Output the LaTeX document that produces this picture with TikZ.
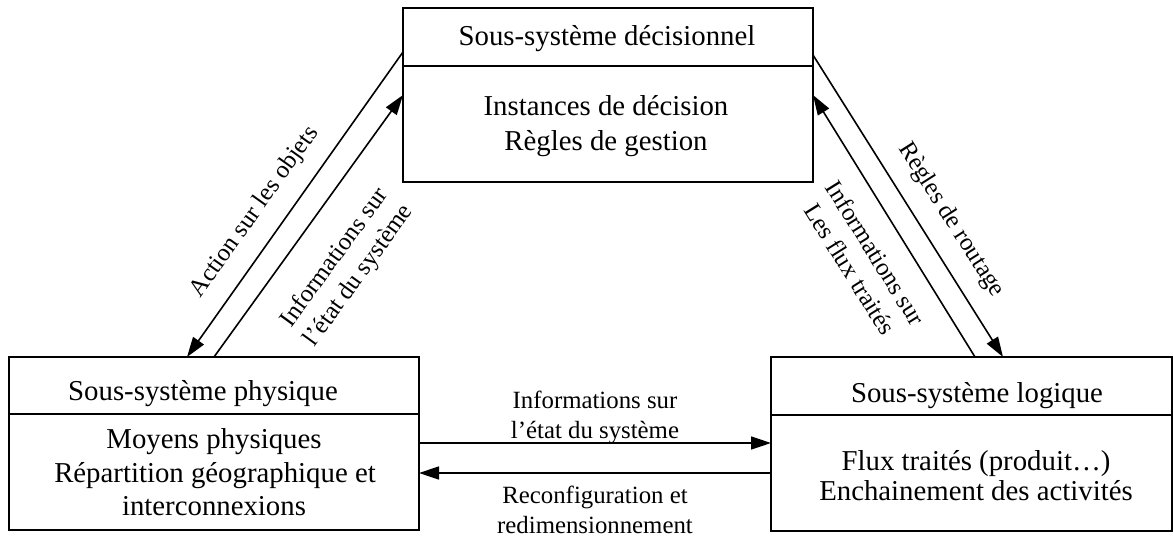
\documentclass[tikz,border=0pt]{standalone}
\usepackage{fontspec}
\setmainfont{Liberation Serif}
\usetikzlibrary{arrows.meta}
\tikzset{
  box/.style={draw, line width=1.4pt, rectangle, inner sep=0pt},
  divider/.style={line width=1.4pt},
  boxtext/.style={font=\fontsize{28.8}{30}\selectfont, inner sep=0pt, anchor=base},
  lbl/.style={font=\fontsize{24.8}{30}\selectfont, inner sep=0pt, align=center},
  conn/.style={line width=1.6pt, -{Triangle[length=20pt,width=13pt]}}
}
\begin{document}
\begin{tikzpicture}[x=1pt, y=-1pt]
\useasboundingbox (0,0) rectangle (1173,538);
% boxes
\node[box, minimum width=410pt, minimum height=174pt] (dec) at (608,95) {};
\node[box, minimum width=410pt, minimum height=173pt] (phy) at (214,443.5) {};
\node[box, minimum width=401pt, minimum height=174pt] (log) at (971.5,444) {};
\draw[divider] (dec.west |- 0,66) -- (dec.east |- 0,66);
\draw[divider] (phy.west |- 0,414) -- (phy.east |- 0,414);
\draw[divider] (log.west |- 0,415) -- (log.east |- 0,415);
% box texts
\node[boxtext] (dect) at (607,45) {Sous-système décisionnel};
\node[boxtext] (dec1) at (606,115) {Instances de décision};
\node[boxtext] (dec2) at (606,150) {Règles de gestion};
\node[boxtext] (phyt) at (203,400) {Sous-système physique};
\node[boxtext] (phy1) at (214,448) {Moyens physiques};
\node[boxtext] (phy2) at (215,482) {Répartition géographique et};
\node[boxtext] (phy3) at (214,515) {interconnexions};
\node[boxtext] (logt) at (977,402) {Sous-système logique};
\node[boxtext] (log1) at (976,470) {Flux traités (produit…)};
\node[boxtext] (log2) at (976,500) {Enchainement des activités};
% connector end points
\coordinate (a1s) at (403,52);  \coordinate (a1e) at (187,357);
\coordinate (a2s) at (214,357); \coordinate (a2e) at (403,95);
\coordinate (a3s) at (813,55);  \coordinate (a3e) at (1003,357);
\coordinate (a4s) at (975,357); \coordinate (a4e) at (813,95);
\coordinate (h1s) at (419,443); \coordinate (h1e) at (771,443);
\coordinate (h2s) at (771,473); \coordinate (h2e) at (419,473);
\draw[conn] (a1s) -- (a1e);
\draw[conn] (a2s) -- (a2e);
\draw[conn] (a3s) -- (a3e);
\draw[conn] (a4s) -- (a4e);
\draw[conn] (h1s) -- (h1e);
\draw[conn] (h2s) -- (h2e);
% labels
\node[lbl, rotate=54.5] (l1) at (255,212) {Action sur les objets};
\node[lbl, rotate=54] (l2) at (347,267) {Informations sur\\l’état du système};
\node[lbl, rotate=-57.5] (l3) at (951,220) {Règles de routage};
\node[lbl, rotate=-58] (l4) at (863,261) {Informations sur\\Les flux traités};
\node[lbl, anchor=base] (l5) at (595,408) {Informations sur};
\node[lbl, anchor=base] (l6) at (595,438) {l’état du système};
\node[lbl, anchor=base] (l7) at (595,503) {Reconfiguration et};
\node[lbl, anchor=base] (l8) at (595,533) {redimensionnement};
\end{tikzpicture}
\end{document}
